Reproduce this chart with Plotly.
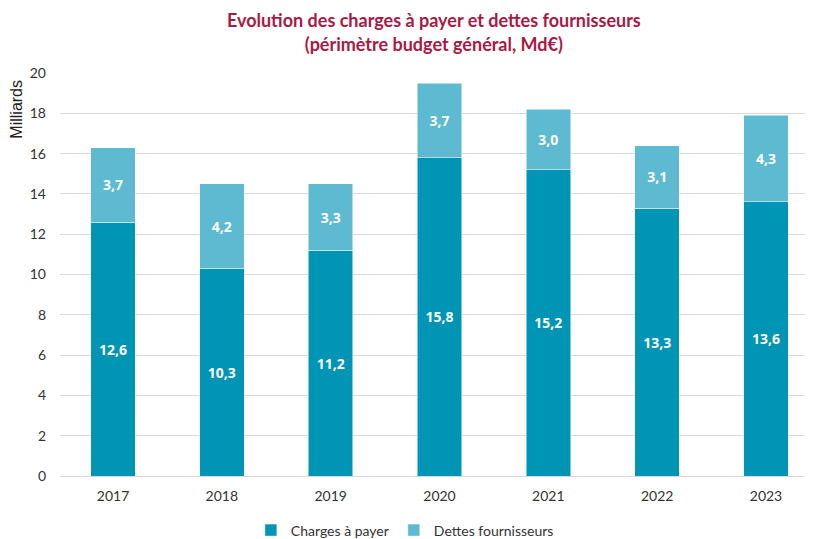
import plotly.graph_objects as go

years = ["2017", "2018", "2019", "2020", "2021", "2022", "2023"]
charges = [12.6, 10.3, 11.2, 15.8, 15.2, 13.3, 13.6]
dettes = [3.7, 4.2, 3.3, 3.7, 3.0, 3.1, 4.3]
charges_labels = ["12,6", "10,3", "11,2", "15,8", "15,2", "13,3", "13,6"]
dettes_labels = ["3,7", "4,2", "3,3", "3,7", "3,0", "3,1", "4,3"]
y_ticks = [0, 2, 4, 6, 8, 10, 12, 14, 16, 18, 20]

NARROW = "Lato, sans-serif"
BOLD = "Open Sans, Noto Sans, sans-serif"

fig = go.Figure()
fig.add_trace(go.Bar(
    x=years, y=charges, name="Charges à payer",
    marker=dict(color="#0094B5", line=dict(color="white", width=0.5)),
    width=0.41, text=charges_labels, textposition="inside",
    insidetextanchor="middle",
    textfont=dict(family=BOLD, size=14, color="white", weight="bold"),
))
fig.add_trace(go.Bar(
    x=years, y=dettes, name="Dettes fournisseurs",
    marker=dict(color="#5DBAD1", line=dict(color="white", width=0.5)),
    width=0.41, text=dettes_labels, textposition="inside",
    insidetextanchor="middle",
    textfont=dict(family=BOLD, size=14, color="white", weight="bold"),
))

fig.update_layout(
    barmode="stack",
    width=805, height=531,
    margin=dict(l=52, r=0, t=65, b=63, autoexpand=False),
    paper_bgcolor="white", plot_bgcolor="white",
    title=dict(
        text="<b>Evolution des charges à payer et dettes fournisseurs<br>(périmètre budget général, Md€)</b>",
        x=0.529, xanchor="center", y=0.964, yanchor="top",
        font=dict(family=NARROW, size=18, color="#A81A44"),
    ),
    xaxis=dict(
        range=[-0.487, 6.432], showgrid=False, showline=False,
        ticks="", ticklabelstandoff=10, automargin=False,
        tickfont=dict(family=NARROW, size=14, color="#333333"),
    ),
    yaxis=dict(
        range=[0, 20], tickvals=y_ticks, showgrid=True, gridcolor="#D9D9D9",
        gridwidth=1, zeroline=True, zerolinecolor="#D9D9D9", zerolinewidth=1,
        ticks="", ticklabelstandoff=13, automargin=False,
        tickfont=dict(family=NARROW, size=14, color="#333333"),
    ),
    legend=dict(
        orientation="h", x=0.458, xanchor="center",
        yref="container", y=0.016, yanchor="middle",
        font=dict(family=NARROW, size=14, color="#333333"),
        itemwidth=30, traceorder="normal",
    ),
    showlegend=True,
    annotations=[dict(
        text="Milliards", xref="paper", yref="paper", x=-0.058, y=0.988,
        xanchor="center", yanchor="top", textangle=-90, showarrow=False,
        font=dict(family="Liberation Sans, Arial, sans-serif", size=16, color="#222222"),
    )],
)

fig.write_html("out.html")
